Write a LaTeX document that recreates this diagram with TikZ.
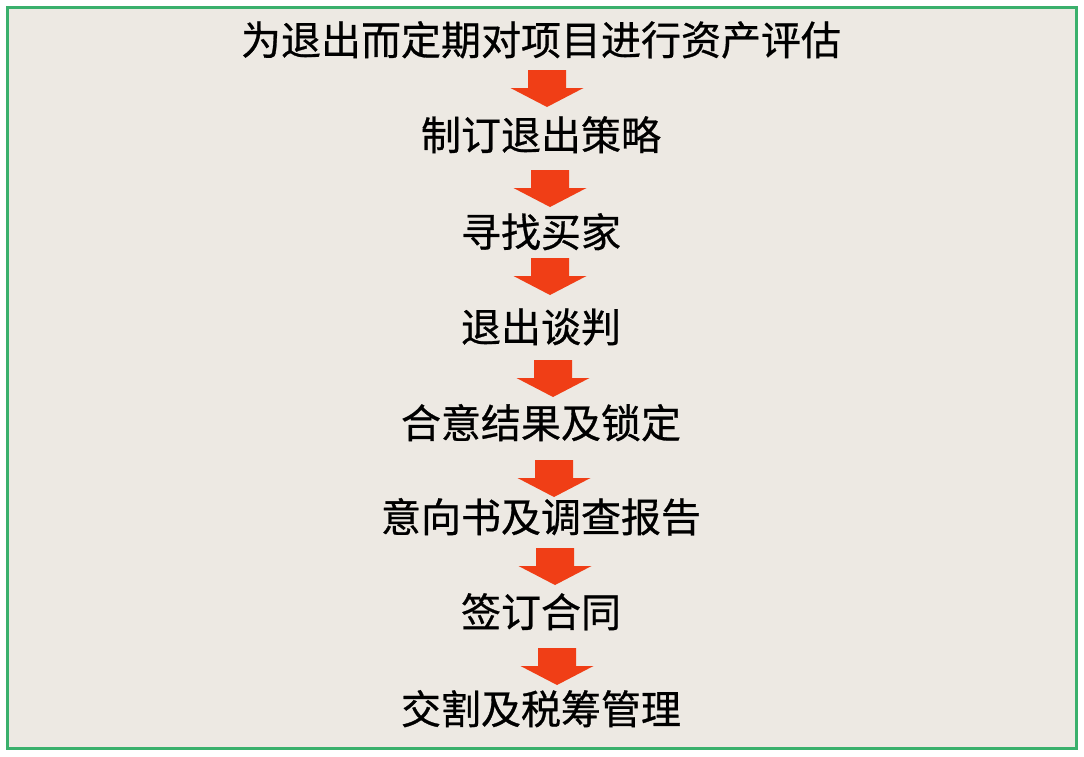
\documentclass[tikz,border=0pt]{standalone}
\usepackage{fontspec}
\newfontfamily\cjk[FakeBold=0.7]{Noto Sans CJK SC}
\definecolor{bgbeige}{RGB}{237,233,227}
\definecolor{framegreen}{RGB}{58,176,108}
\definecolor{arrowred}{RGB}{240,62,22}
\tikzset{
  steptext/.style={anchor=base, inner sep=0pt, font=\cjk\fontsize{40}{40}\selectfont, text=black},
  blockarrow/.pic={\fill[arrowred] (-19,0) -- (19,0) -- (19,18) -- (36.5,18) -- (0,37) -- (-36.5,18) -- (-19,18) -- cycle;}
}
\begin{document}
\begin{tikzpicture}[x=1pt,y=-1pt]
\useasboundingbox (0,0) rectangle (1084,756);
\fill[white] (0,0) rectangle (1084,756);
\draw[framegreen, line width=3pt, fill=bgbeige] (7.5,7.5) rectangle (1076.5,748.5);
\node[steptext] (s1) at (541,55) {为退出而定期对项目进行资产评估};
\node[steptext] (s2) at (541,150) {制订退出策略};
\node[steptext] (s3) at (541,247) {寻找买家};
\node[steptext] (s4) at (541,342) {退出谈判};
\node[steptext] (s5) at (541,438) {合意结果及锁定};
\node[steptext] (s6) at (541,532) {意向书及调查报告};
\node[steptext] (s7) at (541,627) {签订合同};
\node[steptext] (s8) at (541,724) {交割及税筹管理};
\pic at (547,70) {blockarrow};
\pic at (550,170) {blockarrow};
\pic at (550,258) {blockarrow};
\pic at (553,360) {blockarrow};
\pic at (554,460) {blockarrow};
\pic at (555,548) {blockarrow};
\pic at (557,648) {blockarrow};
\end{tikzpicture}
\end{document}
